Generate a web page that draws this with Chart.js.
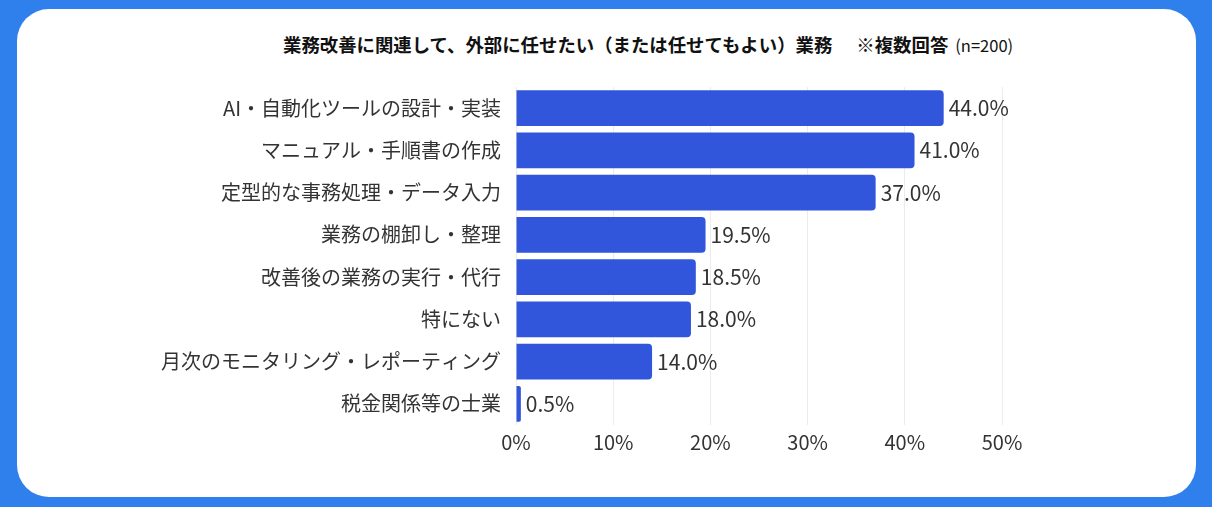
<!DOCTYPE html>
<html lang="ja">
<head>
<meta charset="utf-8">
<script src="https://cdn.jsdelivr.net/npm/chart.js@4.4.1/dist/chart.umd.min.js"></script>
<style>
  html, body { margin: 0; padding: 0; }
  body {
    width: 1212px; height: 507px; overflow: hidden;
    background: #2f80ed; position: relative;
    font-family: "Noto Sans CJK JP", "Noto Sans", sans-serif;
  }
  .card {
    position: absolute; left: 17px; top: 9px; width: 1179px; height: 488px;
    background: #fff; border-radius: 32px;
  }
  .title {
    position: absolute; left: 283px; top: 31px; white-space: nowrap;
    font-size: 18.4px; font-weight: bold; color: #111;
  }
  .title .n { font-size: 16.5px; font-weight: normal; margin-left: 7px; }
  .title .note { margin-left: 24px; }
  #chart { position: absolute; left: 0; top: 0; }
</style>
</head>
<body>
<div class="card"></div>
<div class="title">業務改善に関連して、外部に任せたい（または任せてもよい）業務<span class="note">※複数回答</span><span class="n">(n=200)</span></div>
<canvas id="chart" width="1212" height="507"></canvas>
<script>
// Data
const categories = [
  'AI・自動化ツールの設計・実装',
  'マニュアル・手順書の作成',
  '定型的な事務処理・データ入力',
  '業務の棚卸し・整理',
  '改善後の業務の実行・代行',
  '特にない',
  '月次のモニタリング・レポーティング',
  '税金関係等の士業'
];
const values = [44.0, 41.0, 37.0, 19.5, 18.5, 18.0, 14.0, 0.5];
const xTicks = [0, 10, 20, 30, 40, 50];

const FONT = '"Noto Sans CJK JP", "Noto Sans", sans-serif';

// draw value labels at the end of each bar
const valueLabels = {
  id: 'valueLabels',
  afterDatasetsDraw(chart) {
    const ctx = chart.ctx;
    const meta = chart.getDatasetMeta(0);
    ctx.save();
    ctx.font = '21px ' + FONT;
    ctx.fillStyle = '#333';
    ctx.textAlign = 'left';
    ctx.textBaseline = 'middle';
    meta.data.forEach((bar, i) => {
      ctx.fillText(values[i].toFixed(1) + '%', bar.x + 5, bar.y);
    });
    ctx.restore();
  }
};

const ctx = document.getElementById('chart').getContext('2d');
new Chart(ctx, {
  type: 'bar',
  data: {
    labels: categories,
    datasets: [{
      data: values,
      backgroundColor: '#3256db',
      borderRadius: 4,
      barPercentage: 0.85,
      categoryPercentage: 1.0
    }]
  },
  options: {
    indexAxis: 'y',
    responsive: false,
    animation: false,
    layout: { padding: { top: 87, right: 210, left: 0, bottom: 0 } },
    plugins: {
      legend: { display: false },
      tooltip: { enabled: false },
      title: { display: false }
    },
    scales: {
      x: {
        min: 0,
        max: 50,
        afterBuildTicks: (scale) => { scale.ticks = xTicks.map(v => ({ value: v })); },
        afterFit: (scale) => { scale.height = 82; },
        grid: { color: '#ececec', drawTicks: false },
        border: { display: false },
        ticks: {
          padding: 5,
          color: '#333',
          font: { family: FONT, size: 20 },
          callback: (v) => v + '%'
        }
      },
      y: {
        afterFit: (scale) => { scale.width = 516; },
        grid: { display: false, drawTicks: false },
        border: { display: false },
        ticks: {
          padding: 15,
          color: '#333',
          font: { family: FONT, size: 20 }
        }
      }
    }
  },
  plugins: [valueLabels]
});
</script>
</body>
</html>
